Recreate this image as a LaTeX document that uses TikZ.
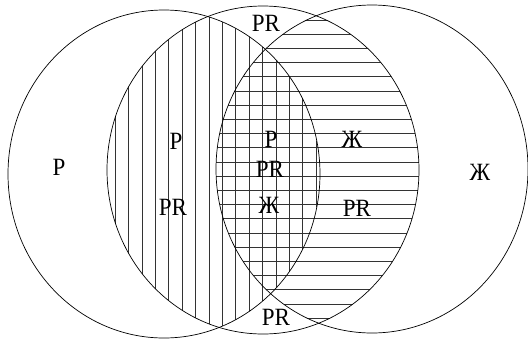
\documentclass[tikz,border=0pt]{standalone}
\usepackage{fontspec}
\setmainfont{Liberation Serif}
\begin{document}
\begin{tikzpicture}[x=1pt,y=-1pt,
  ring/.style={line width=0.7pt},
  hatch/.style={line width=0.6pt,black!80},
  lbl/.style={font=\fontsize{23}{23}\selectfont,inner sep=0pt,yscale=1.08}]
\useasboundingbox (0,0) rectangle (528,341);
% Circle centres and radii
\coordinate (cA) at (164,174);
\coordinate (cB) at (263,170);
\coordinate (cC) at (372,169);
\def\radx{156pt}
\def\rady{164pt}
% Vertical hatching (left and middle circles)
\begin{scope}
  \clip (cA) ellipse [x radius=\radx, y radius=\rady];
  \clip (cB) ellipse [x radius=\radx, y radius=\rady];
  \foreach \k in {0,...,15}
    \draw[hatch] ({115+13.4*\k},0) -- ({115+13.4*\k},341);
\end{scope}
% Horizontal hatching (middle and right circles)
\begin{scope}
  \clip (cB) ellipse [x radius=\radx, y radius=\rady];
  \clip (cC) ellipse [x radius=\radx, y radius=\rady];
  \foreach \k in {0,...,21}
    \draw[hatch] (0,{19.8+14.2*\k}) -- (528,{19.8+14.2*\k});
\end{scope}
% Circles
\foreach \c in {cA,cB,cC}
  \draw[ring] (\c) ellipse [x radius=\radx, y radius=\rady];
% Labels
\node[lbl] (pL)   at (59,167)  {P};
\node[lbl] (pV)   at (176,141) {P};
\node[lbl] (prV)  at (173,207) {PR};
\node[lbl] (pX)   at (271,139) {P};
\node[lbl] (prX)  at (270,169) {PR};
\node[lbl] (zhX)  at (269,205) {Ж};
\node[lbl] (zhH)  at (352,139) {Ж};
\node[lbl] (prH)  at (357,208) {PR};
\node[lbl] (zhR)  at (480,172) {Ж};
\node[lbl] (prT)  at (266,23)  {PR};
\node[lbl] (prB)  at (276,317) {PR};
\end{tikzpicture}
\end{document}
